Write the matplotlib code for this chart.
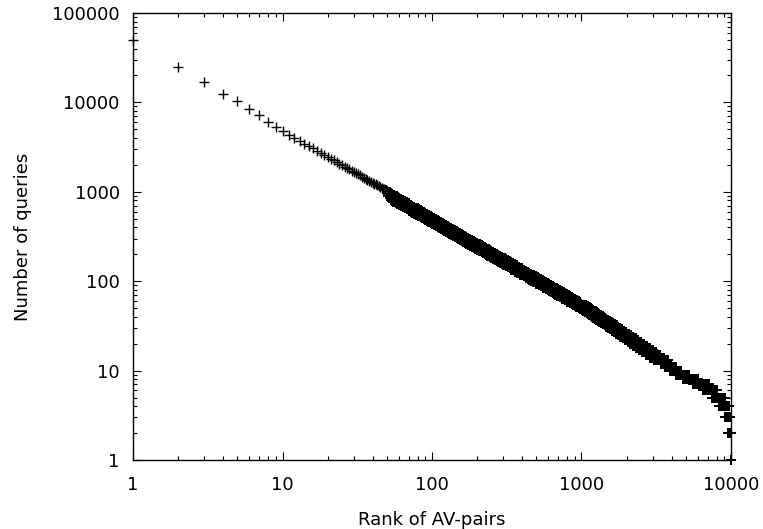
import matplotlib
matplotlib.use("Agg")
import matplotlib.pyplot as plt
from matplotlib.ticker import FixedLocator, FixedFormatter, LogLocator, NullFormatter

plt.rcParams['font.family'] = ['DejaVu Sans']

# ---- data ----
# individually visible ranks (rank -> number of queries)
head_rank = list(range(1, 49))
head_count = [50000, 25100, 16800, 12300, 10400, 8440, 7230, 6080, 5260, 4790,
              4371, 4021, 3724, 3468, 3245, 3051, 2878, 2724, 2586, 2463,
              2350, 2247, 2154, 2067, 1988, 1914, 1846, 1782, 1723, 1668,
              1617, 1568, 1523, 1480, 1439, 1401, 1364, 1330, 1297, 1266,
              1236, 1208, 1181, 1155, 1131, 1107, 1084, 1062]

# dense band: sampled ranks with upper edge, middle and lower edge of the point cloud
band_rank = [49, 50, 51, 52, 53, 54, 55, 56, 57, 58, 59, 60,
             62, 64, 66, 68, 70, 72, 74, 76, 78, 80, 82, 84, 86, 88, 90, 92, 94, 96, 98, 100,
             103, 106, 109, 112, 115, 118, 121, 124, 127, 130,
             134, 138, 142, 146, 150, 154, 158, 162, 166, 170,
             175, 180, 185, 190, 195, 200, 205, 210, 215, 220, 225, 230, 235, 240, 245, 250,
             257, 264, 271, 278, 285, 292, 299, 306, 313, 320,
             330, 340, 350, 360, 370, 380, 390, 400,
             412, 424, 436, 448, 460, 472, 484, 496, 508, 520,
             535, 550, 565, 580, 595, 610, 625, 640, 655, 670, 685, 700,
             720, 740, 760, 780, 800, 820, 840, 860, 880, 900, 920, 940, 960, 980]
band_high = [1042, 1022, 1002, 984, 966, 949, 932, 916, 901, 886, 871, 857,
             831, 806, 783, 761, 740, 720, 701, 684, 667, 651, 636, 621, 607, 594, 581, 569, 557, 546, 535, 525,
             511, 497, 483, 471, 459, 448, 437, 427, 418, 408,
             397, 386, 375, 365, 356, 347, 339, 331, 323, 316,
             307, 299, 291, 284, 277, 270, 264, 258, 252, 246, 241, 236, 231, 227, 222, 218,
             212, 207, 202, 197, 192, 188, 183, 180, 176, 172,
             167, 162, 158, 154, 150, 146, 142, 139,
             135, 131, 128, 125, 121, 118, 116, 113, 110, 108,
             105, 102, 100, 97, 95, 92, 90, 88, 86, 84, 83, 81,
             79, 77, 75, 73, 71, 70, 68, 67, 65, 64, 62, 61, 60, 59]
band_mid = [1042, 990, 950, 915, 882, 867, 851, 837, 823, 809, 795, 783,
            759, 736, 715, 695, 676, 658, 640, 625, 609, 595, 581, 567, 554, 542, 531, 520, 509, 499, 489, 479,
            467, 454, 441, 430, 419, 409, 399, 390, 382, 373,
            363, 353, 342, 333, 325, 317, 310, 302, 295, 289,
            280, 273, 266, 259, 253, 247, 241, 236, 230, 225, 220, 216, 211, 207, 203, 199,
            194, 189, 184, 180, 175, 172, 167, 164, 161, 157,
            153, 148, 144, 141, 137, 133, 130, 127,
            123, 120, 117, 114, 110, 108, 106, 103, 100, 99,
            96, 93, 91, 89, 87, 84, 82, 80, 79, 77, 76, 74,
            72, 70, 68, 67, 65, 64, 62, 61, 59, 58, 57, 56, 55, 54]
band_low = [1042, 960, 900, 850, 805, 791, 777, 763, 751, 738, 726, 714,
            693, 672, 653, 634, 617, 600, 584, 570, 556, 543, 530, 518, 506, 495, 484, 474, 464, 455, 446, 438,
            426, 414, 403, 393, 383, 373, 364, 356, 348, 340,
            331, 322, 313, 304, 297, 289, 283, 276, 269, 263,
            256, 249, 243, 237, 231, 225, 220, 215, 210, 205, 201, 197, 193, 189, 185, 182,
            177, 173, 168, 164, 160, 157, 153, 150, 147, 143,
            139, 135, 132, 128, 125, 122, 118, 116,
            113, 109, 107, 104, 101, 98, 97, 94, 92, 90,
            88, 85, 83, 81, 79, 77, 75, 73, 72, 70, 69, 68,
            66, 64, 63, 61, 59, 58, 57, 56, 54, 53, 52, 51, 50, 49]

# tail plateaus: query count with the first and last rank where it occurs
tail_count = [54, 53, 52, 51, 50, 49, 48, 47, 46, 45, 44, 43, 42, 41, 40,
              39, 38, 37, 36, 35, 34, 33, 32, 31, 30, 29, 28, 27, 26, 25,
              24, 23, 22, 21, 20, 19, 18, 17, 16, 15, 14, 13, 12, 11, 10,
              9, 8, 7, 6, 5, 4, 3, 2, 1]
tail_first_rank = [902, 920, 936, 952, 966, 984, 1003, 1021, 1040, 1058, 1081, 1104, 1122, 1150, 1178,
                   1196, 1224, 1251, 1288, 1316, 1352, 1389, 1426, 1463, 1500, 1546, 1592, 1647, 1702, 1757,
                   1822, 1886, 1960, 2033, 2125, 2217, 2318, 2429, 2558, 2696, 2861, 3036, 3389, 3638, 3926,
                   4272, 4800, 5568, 6528, 7488, 8352, 9070, 9500, 9980]
tail_last_rank = [1080, 1098, 1118, 1134, 1156, 1177, 1199, 1220, 1242, 1269, 1296, 1318, 1350, 1382, 1404,
                  1436, 1469, 1512, 1544, 1588, 1631, 1674, 1717, 1760, 1814, 1868, 1933, 1998, 2063, 2138,
                  2214, 2300, 2387, 2495, 2603, 2722, 2851, 3002, 3164, 3359, 3564, 3812, 3942, 4254, 4628,
                  5200, 6032, 7072, 8112, 9048, 9724, 9900, 10000, 10000]

x_ticks = [1, 10, 100, 1000, 10000]
x_tick_labels = ['1', '10', '100', '1000', '10000']
y_ticks = [1, 10, 100, 1000, 10000, 100000]
y_tick_labels = ['1', '10', '100', '1000', '10000', '100000']

x_label = 'Rank of AV-pairs'
y_label = 'Number of queries'

# expand plateaus: every rank within a plateau carries the plateau count
tail_r, tail_c = [], []
for c, first, last in zip(tail_count, tail_first_rank, tail_last_rank):
    for r in range(first, last + 1):
        tail_r.append(r)
        tail_c.append(c)

W, H = 763, 529
fig = plt.figure(figsize=(W / 100, H / 100), dpi=100)
L, R, T, B = 133, 731, 13, 460
ax = fig.add_axes([L / W, 1 - B / H, (R - L) / W, (B - T) / H])

style = dict(linestyle='none', marker='+', markersize=7.4, markeredgewidth=1.0,
             color='black', clip_on=False)
dense = dict(style, markeredgewidth=1.4)
ax.plot(head_rank, head_count, **style)
ax.plot(band_rank, band_high, **dense)
ax.plot(band_rank, band_mid, **dense)
ax.plot(band_rank, band_low, **dense)
ax.plot(tail_r, tail_c, **dense)

ax.set_xscale('log')
ax.set_yscale('log')
ax.set_xlim(x_ticks[0], x_ticks[-1])
ax.set_ylim(y_ticks[0], y_ticks[-1])

ax.xaxis.set_major_locator(FixedLocator(x_ticks))
ax.xaxis.set_major_formatter(FixedFormatter(x_tick_labels))
ax.yaxis.set_major_locator(FixedLocator(y_ticks))
ax.yaxis.set_major_formatter(FixedFormatter(y_tick_labels))
ax.xaxis.set_minor_locator(LogLocator(base=10, subs=range(2, 10), numticks=20))
ax.yaxis.set_minor_locator(LogLocator(base=10, subs=range(2, 10), numticks=20))
ax.xaxis.set_minor_formatter(NullFormatter())
ax.yaxis.set_minor_formatter(NullFormatter())

ax.tick_params(which='both', direction='in', top=True, right=True, width=0.8, colors='black')
ax.tick_params(which='major', length=5.5, labelsize=13)
ax.tick_params(axis='x', which='major', pad=11.5)
ax.tick_params(axis='y', which='major', pad=9.5)
ax.tick_params(which='minor', length=2.8)
for s in ax.spines.values():
    s.set_linewidth(1.0)

ax.set_xlabel(x_label, fontsize=13)
ax.set_ylabel(y_label, fontsize=13)
ax.xaxis.label.set_va('baseline')
ax.yaxis.label.set_va('center')
ax.xaxis.set_label_coords(0.5, (B - 525) / (B - T))
ax.yaxis.set_label_coords((23 - L) / (R - L), 0.5)

fig.savefig('out.png', dpi=100)
